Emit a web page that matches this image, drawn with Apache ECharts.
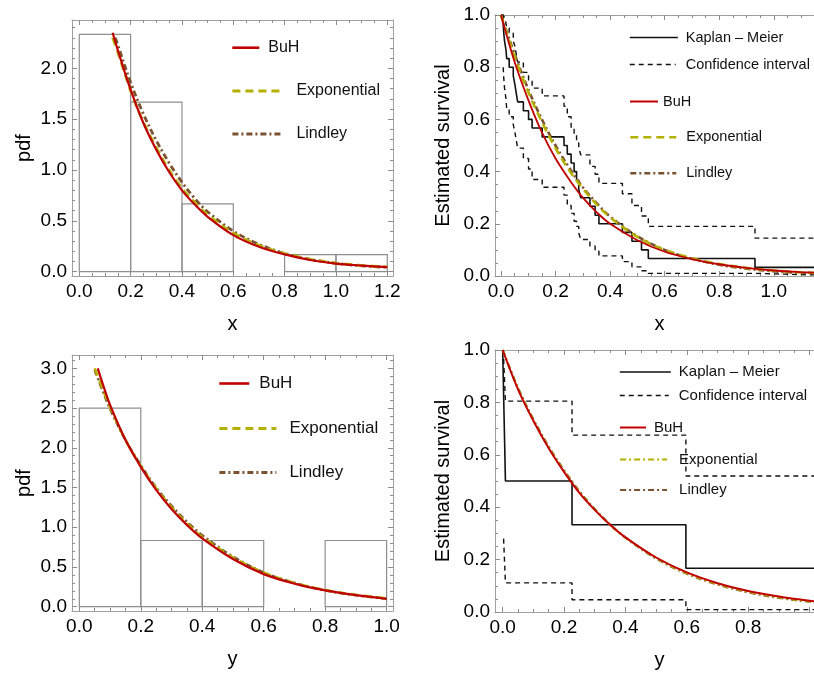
<!DOCTYPE html>
<html><head><meta charset="utf-8">
<script src="https://cdn.jsdelivr.net/npm/echarts@6/dist/echarts.min.js"></script>
<style>html,body{margin:0;padding:0;background:#fff}#c{width:814px;height:675px}</style>
</head><body><div id="c"></div>
<script>
// ---------------- data ----------------
// histograms (bin edges, density)
const histXEdges = [0, 0.2, 0.4, 0.6, 0.8, 1.0, 1.2];
const histXDensity = [2.333, 1.667, 0.667, 0, 0.167, 0.167];
const histYEdges = [0, 0.2, 0.4, 0.6, 0.8, 1.0];
const histYDensity = [2.5, 0.833, 0.833, 0, 0.833];

// fitted pdfs, data set x
const pdfXBuHx = [0.13, 0.15, 0.2, 0.25, 0.3, 0.35, 0.4, 0.45, 0.5, 0.6, 0.7, 0.8, 0.9, 1.0, 1.1, 1.2];
const pdfXBuH  = [2.35, 2.18, 1.79, 1.46, 1.20, 0.98, 0.80, 0.66, 0.54, 0.36, 0.245, 0.17, 0.115, 0.08, 0.06, 0.045];
const pdfXExpx = [0.13, 0.15, 0.2, 0.25, 0.3, 0.35, 0.4, 0.45, 0.5, 0.6, 0.7, 0.8, 0.9, 1.0, 1.1, 1.2];
const pdfXExp  = [2.30, 2.16, 1.78, 1.47, 1.22, 1.00, 0.82, 0.68, 0.56, 0.38, 0.26, 0.178, 0.122, 0.085, 0.062, 0.047];
const pdfXLinx = [0.14, 0.15, 0.2, 0.25, 0.3, 0.35, 0.4, 0.45, 0.5, 0.6, 0.7, 0.8, 0.9, 1.0, 1.1, 1.2];
const pdfXLin  = [2.30, 2.23, 1.86, 1.55, 1.29, 1.07, 0.88, 0.72, 0.59, 0.40, 0.27, 0.18, 0.12, 0.082, 0.058, 0.042];

// fitted pdfs, data set y
const pdfYBuHx = [0.06, 0.08, 0.1, 0.15, 0.2, 0.25, 0.3, 0.35, 0.4, 0.5, 0.6, 0.7, 0.8, 0.9, 1.0];
const pdfYBuH  = [3.0, 2.76, 2.54, 2.10, 1.76, 1.47, 1.23, 1.03, 0.86, 0.60, 0.41, 0.29, 0.205, 0.145, 0.10];
const pdfYExpx = [0.05, 0.08, 0.1, 0.15, 0.2, 0.25, 0.3, 0.35, 0.4, 0.5, 0.6, 0.7, 0.8, 0.9, 1.0];
const pdfYExp  = [3.0, 2.70, 2.51, 2.10, 1.77, 1.49, 1.25, 1.05, 0.88, 0.62, 0.43, 0.30, 0.21, 0.15, 0.105];
const pdfYLinx = [0.05, 0.08, 0.1, 0.15, 0.2, 0.25, 0.3, 0.35, 0.4, 0.5, 0.6, 0.7, 0.8, 0.9, 1.0];
const pdfYLin  = [2.98, 2.68, 2.49, 2.10, 1.78, 1.50, 1.27, 1.07, 0.90, 0.63, 0.43, 0.30, 0.205, 0.145, 0.10];

// survival, data set x
const survXGrid = [0, 0.05, 0.1, 0.15, 0.2, 0.25, 0.3, 0.35, 0.4, 0.5, 0.6, 0.7, 0.8, 0.9, 1.0, 1.1, 1.19];
const survXBuH  = [1.0, 0.82, 0.675, 0.55, 0.45, 0.37, 0.30, 0.245, 0.20, 0.137, 0.093, 0.065, 0.045, 0.031, 0.021, 0.015, 0.011];
const survXExp  = [1.0, 0.84, 0.705, 0.59, 0.49, 0.405, 0.335, 0.275, 0.225, 0.15, 0.10, 0.068, 0.046, 0.031, 0.021, 0.014, 0.010];
const survXLin  = [1.0, 0.85, 0.715, 0.60, 0.50, 0.415, 0.34, 0.28, 0.228, 0.152, 0.10, 0.066, 0.043, 0.028, 0.018, 0.012, 0.008];
const kmXTimes  = [0, 0.008, 0.010, 0.013, 0.018, 0.021, 0.030, 0.045, 0.051, 0.056, 0.061, 0.082, 0.101, 0.114, 0.151, 0.231, 0.243, 0.257, 0.268, 0.277, 0.285, 0.292, 0.326, 0.345, 0.359, 0.445, 0.48, 0.515, 0.54, 0.931, 1.19];
const kmXSurv   = [1, 0.967, 0.933, 0.9, 0.867, 0.833, 0.8, 0.767, 0.733, 0.7, 0.667, 0.633, 0.6, 0.567, 0.533, 0.5, 0.467, 0.433, 0.4, 0.367, 0.333, 0.3, 0.267, 0.233, 0.2, 0.167, 0.133, 0.1, 0.067, 0.033, 0.033];
const ciXUpper  = [1, 1, 1, 0.99, 0.97, 0.95, 0.93, 0.90, 0.88, 0.85, 0.82, 0.78, 0.75, 0.72, 0.69, 0.65, 0.61, 0.57, 0.54, 0.51, 0.495, 0.464, 0.42, 0.39, 0.355, 0.315, 0.27, 0.23, 0.19, 0.145, 0.145];
const ciXLowerTimes = [0.008, 0.010, 0.013, 0.018, 0.021, 0.030, 0.045, 0.051, 0.056, 0.061, 0.082, 0.101, 0.114, 0.151, 0.231, 0.243, 0.257, 0.268, 0.277, 0.285, 0.292, 0.326, 0.345, 0.359, 0.445, 0.48, 0.515, 0.54, 0.931, 1.19];
const ciXLower  = [0.80, 0.76, 0.72, 0.68, 0.64, 0.61, 0.58, 0.55, 0.52, 0.49, 0.45, 0.41, 0.37, 0.34, 0.31, 0.27, 0.24, 0.21, 0.19, 0.165, 0.14, 0.115, 0.095, 0.077, 0.055, 0.035, 0.02, 0.01, 0.003, 0.003];

// survival, data set y
const survYGrid = [0, 0.05, 0.1, 0.15, 0.2, 0.25, 0.3, 0.35, 0.4, 0.5, 0.6, 0.7, 0.8, 0.9, 1.0, 1.05];
const survYBuH  = [1.0, 0.85, 0.73, 0.625, 0.535, 0.455, 0.39, 0.333, 0.285, 0.208, 0.151, 0.11, 0.08, 0.059, 0.043, 0.037];
const survYExp  = [1.0, 0.853, 0.733, 0.628, 0.538, 0.458, 0.391, 0.333, 0.284, 0.206, 0.148, 0.107, 0.077, 0.056, 0.04, 0.034];
const survYLin  = [1.0, 0.855, 0.736, 0.631, 0.541, 0.461, 0.393, 0.334, 0.284, 0.204, 0.146, 0.105, 0.075, 0.054, 0.039, 0.033];
const kmYTimes  = [0, 0.003, 0.009, 0.226, 0.597, 1.05];
const kmYSurv   = [1, 0.833, 0.5, 0.333, 0.167, 0.167];
const ciYUpper  = [1, 0.97, 0.805, 0.675, 0.519, 0.519];
const ciYLowerTimes = [0.003, 0.009, 0.226, 0.597, 1.05];
const ciYLower  = [0.28, 0.111, 0.047, 0.009, 0.009];

// tick values
const ticksX12Major = [0, 0.2, 0.4, 0.6, 0.8, 1.0, 1.2];
const ticksX12Minor = [0.05, 0.1, 0.15, 0.25, 0.3, 0.35, 0.45, 0.5, 0.55, 0.65, 0.7, 0.75, 0.85, 0.9, 0.95, 1.05, 1.1, 1.15];
const ticksX10Major = [0, 0.2, 0.4, 0.6, 0.8, 1.0];
const ticksX10Minor = [0.05, 0.1, 0.15, 0.25, 0.3, 0.35, 0.45, 0.5, 0.55, 0.65, 0.7, 0.75, 0.85, 0.9, 0.95, 1.05];
const labelsX08 = [0, 0.2, 0.4, 0.6, 0.8];
const ticksPdf1Major = [0, 0.5, 1.0, 1.5, 2.0];
const ticksPdf1Minor = [0.1, 0.2, 0.3, 0.4, 0.6, 0.7, 0.8, 0.9, 1.1, 1.2, 1.3, 1.4, 1.6, 1.7, 1.8, 1.9, 2.1, 2.2, 2.3, 2.4];
const ticksPdf2Major = [0, 0.5, 1.0, 1.5, 2.0, 2.5, 3.0];
const ticksPdf2Minor = [0.1, 0.2, 0.3, 0.4, 0.6, 0.7, 0.8, 0.9, 1.1, 1.2, 1.3, 1.4, 1.6, 1.7, 1.8, 1.9, 2.1, 2.2, 2.3, 2.4, 2.6, 2.7, 2.8, 2.9, 3.1];
const ticksSurvMajor = [0, 0.2, 0.4, 0.6, 0.8, 1.0];
const ticksSurvMinor = [0.05, 0.1, 0.15, 0.25, 0.3, 0.35, 0.45, 0.5, 0.55, 0.65, 0.7, 0.75, 0.85, 0.9, 0.95];

// ---------------- styles ----------------
const FONT = '"Liberation Sans", Arial, Helvetica, sans-serif';
const FRAME = '#a0a0a0', TICK = '#8c8c8c';
const RED = '#c00000', YEL = '#b4b000', BRN = '#7a5230', BLK = '#111111', HIST = '#8f8f8f';
const DASH = [8, 5], DASHDOT = [6, 3, 2, 3], CIDASH = [5, 4];

const xAxes = [], yAxes = [];
function mkAxes(g, c) {
  const frame = {show: true, onZero: false, lineStyle: {color: FRAME, width: 1}};
  const noLine = {show: false, onZero: false};
  const tk = (vals, len) => ({show: true, inside: true, length: len, customValues: vals, lineStyle: {color: TICK, width: 1}});
  const lab = (vals, margin) => ({show: true, customValues: vals, margin: margin, formatter: v => (+v).toFixed(1), fontSize: 19, fontFamily: FONT, color: '#000'});
  const nts = {fontSize: 20, fontFamily: FONT, color: '#000'};
  const bx = {gridIndex: g, type: 'value', min: c.x[0], max: c.x[1], splitLine: {show: false}, silent: true};
  const by = {gridIndex: g, type: 'value', min: c.y[0], max: c.y[1], splitLine: {show: false}, silent: true};
  xAxes.push(
    Object.assign({}, bx, {position: 'bottom', axisLine: frame, axisTick: tk(c.xMaj, 5), axisLabel: lab(c.xLab || c.xMaj, 6),
      name: c.xName, nameLocation: 'middle', nameGap: 38, nameTextStyle: nts}),
    Object.assign({}, bx, {position: 'bottom', axisLine: noLine, axisTick: tk(c.xMin, 3), axisLabel: {show: false}}),
    Object.assign({}, bx, {position: 'top', axisLine: frame, axisTick: tk(c.xMaj, 5), axisLabel: {show: false}}),
    Object.assign({}, bx, {position: 'top', axisLine: noLine, axisTick: tk(c.xMin, 3), axisLabel: {show: false}})
  );
  yAxes.push(
    Object.assign({}, by, {position: 'left', axisLine: frame, axisTick: tk(c.yMaj, 5), axisLabel: lab(c.yMaj, 5),
      name: c.yName, nameLocation: 'middle', nameGap: c.yGap, nameTextStyle: nts}),
    Object.assign({}, by, {position: 'left', axisLine: noLine, axisTick: tk(c.yMin, 3), axisLabel: {show: false}}),
    Object.assign({}, by, {position: 'right', axisLine: frame, axisTick: tk(c.yMaj, 5), axisLabel: {show: false}}),
    Object.assign({}, by, {position: 'right', axisLine: noLine, axisTick: tk(c.yMin, 3), axisLabel: {show: false}})
  );
}
mkAxes(0, {x: [-0.0284, 1.2222], y: [-0.0423, 2.475], xMaj: ticksX12Major, xMin: ticksX12Minor, yMaj: ticksPdf1Major, yMin: ticksPdf1Minor, xName: 'x', yName: 'pdf', yGap: 38});
mkAxes(1, {x: [-0.022, 1.184], y: [0, 1], xMaj: ticksX10Major, xMin: ticksX12Minor, yMaj: ticksSurvMajor, yMin: ticksSurvMinor, xName: 'x', yName: 'Estimated survival', yGap: 42});
mkAxes(2, {x: [-0.0238, 1.0208], y: [-0.054, 3.168], xMaj: ticksX10Major, xMin: ticksX10Minor, yMaj: ticksPdf2Major, yMin: ticksPdf2Minor, xName: 'y', yName: 'pdf', yGap: 38});
mkAxes(3, {x: [-0.025, 1.047], y: [0, 1], xMaj: ticksX10Major, xLab: labelsX08, xMin: ticksX10Minor, yMaj: ticksSurvMajor, yMin: ticksSurvMinor, xName: 'y', yName: 'Estimated survival', yGap: 42});

const zip = (xs, ys) => xs.map((x, i) => [x, ys[i]]);
const series = [];
function hist(g, edges, dens) {
  series.push({
    type: 'custom', xAxisIndex: g * 4, yAxisIndex: g * 4, silent: true, z: 1,
    encode: {x: [0, 1], y: 2},
    data: dens.map((d, i) => [edges[i], edges[i + 1], d]),
    renderItem: function (params, api) {
      const h = api.value(2);
      if (!h) return null;
      const p0 = api.coord([api.value(0), h]);
      const p1 = api.coord([api.value(1), 0]);
      return {type: 'rect', shape: {x: p0[0], y: p0[1], width: p1[0] - p0[0], height: p1[1] - p0[1]},
        style: {fill: 'none', stroke: HIST, lineWidth: 1.2}};
    }
  });
}
function line(g, name, data, color, width, type, extra) {
  series.push(Object.assign({
    type: 'line', name: name, xAxisIndex: g * 4, yAxisIndex: g * 4, data: data,
    symbol: 'none', showSymbol: false, silent: true, smooth: 0.35,
    lineStyle: {color: color, width: width, type: type}, itemStyle: {color: color}
  }, extra || {}));
}
const step = {smooth: false, step: 'end'};

// panel 0
hist(0, histXEdges, histXDensity);
line(0, 'Lindley', zip(pdfXLinx, pdfXLin), BRN, 2.8, DASHDOT);
line(0, 'Exponential', zip(pdfXExpx, pdfXExp), YEL, 2.8, DASH);
line(0, 'BuH', zip(pdfXBuHx, pdfXBuH), RED, 2.2, 'solid');
// panel 1
line(1, 'Confidence interval', zip(kmXTimes, ciXUpper), BLK, 1.4, CIDASH, step);
line(1, 'Confidence interval', zip(ciXLowerTimes, ciXLower), BLK, 1.4, CIDASH, step);
line(1, 'Kaplan – Meier', zip(kmXTimes, kmXSurv), BLK, 1.6, 'solid', step);
line(1, 'Lindley', zip(survXGrid, survXLin), BRN, 2.6, DASHDOT);
line(1, 'Exponential', zip(survXGrid, survXExp), YEL, 2.6, DASH);
line(1, 'BuH', zip(survXGrid, survXBuH), RED, 1.8, 'solid');
// panel 2
hist(2, histYEdges, histYDensity);
line(2, 'Lindley', zip(pdfYLinx, pdfYLin), BRN, 2.6, DASHDOT);
line(2, 'Exponential', zip(pdfYExpx, pdfYExp), YEL, 2.6, DASH);
line(2, 'BuH', zip(pdfYBuHx, pdfYBuH), RED, 2.2, 'solid');
// panel 3
line(3, 'Confidence interval', zip(kmYTimes, ciYUpper), BLK, 1.4, CIDASH, step);
line(3, 'Confidence interval', zip(ciYLowerTimes, ciYLower), BLK, 1.4, CIDASH, step);
line(3, 'Kaplan – Meier', zip(kmYTimes, kmYSurv), BLK, 1.6, 'solid', step);
line(3, 'Lindley', zip(survYGrid, survYLin), BRN, 2.2, DASHDOT);
line(3, 'Exponential', zip(survYGrid, survYExp), YEL, 2.2, DASHDOT);
line(3, 'BuH', zip(survYGrid, survYBuH), RED, 2.0, 'solid');

// legends (one component per entry, Mathematica-style placement)
const legends = [];
function leg(name, left, cy, iw, pad, fs, color, width, type) {
  legends.push({
    data: [name], left: left, top: cy - 5, orient: 'horizontal', itemWidth: iw, itemHeight: 10,
    padding: 0, itemGap: 0, selectedMode: false,
    textStyle: {fontSize: fs, fontFamily: FONT, color: '#111', padding: [0, 0, 0, pad]},
    lineStyle: {color: color, width: width, type: type},
    itemStyle: {opacity: 0}
  });
}
leg('BuH', 231, 44.7, 27, 4, 16, RED, 2.6, 'solid');
leg('Exponential', 231, 88, 51, 8, 16, YEL, 2.8, DASH);
leg('Lindley', 231, 131, 51, 8, 16, BRN, 2.8, DASHDOT);

leg('Kaplan – Meier', 629, 35, 48, 3, 14.5, BLK, 1.6, 'solid');
leg('Confidence interval', 629, 62, 46, 5, 14.5, BLK, 1.5, CIDASH);
leg('BuH', 629, 99, 28, 0, 14.5, RED, 2, 'solid');
leg('Exponential', 629, 134.7, 46, 5, 14.5, YEL, 2.6, DASH);
leg('Lindley', 629, 170.7, 46, 5, 14.5, BRN, 2.6, DASHDOT);

leg('BuH', 218, 380, 30, 5, 17, RED, 2.6, 'solid');
leg('Exponential', 218, 425, 57, 8, 17, YEL, 2.8, DASH);
leg('Lindley', 218, 469, 57, 8, 17, BRN, 2.8, DASHDOT);

leg('Kaplan – Meier', 619, 369.5, 51, 3, 15, BLK, 1.6, 'solid');
leg('Confidence interval', 619, 393, 49, 5, 15, BLK, 1.5, CIDASH);
leg('BuH', 619, 425, 26, 3, 15, RED, 2, 'solid');
leg('Exponential', 619, 457, 47, 7, 15, YEL, 2.2, DASHDOT);
leg('Lindley', 619, 487.5, 47, 7, 15, BRN, 2.2, DASHDOT);

const chart = echarts.init(document.getElementById('c'), null, {renderer: 'canvas'});
chart.setOption({
  animation: false,
  backgroundColor: '#fff',
  grid: [
    {left: 72, top: 20, width: 321, height: 256, outerBoundsMode: 'none', containLabel: false},
    {left: 495, top: 15, width: 329, height: 261, outerBoundsMode: 'none', containLabel: false},
    {left: 72, top: 355, width: 321, height: 256, outerBoundsMode: 'none', containLabel: false},
    {left: 495, top: 350, width: 329, height: 262, outerBoundsMode: 'none', containLabel: false}
  ],
  xAxis: xAxes,
  yAxis: yAxes,
  legend: legends,
  series: series
});
</script></body></html>
